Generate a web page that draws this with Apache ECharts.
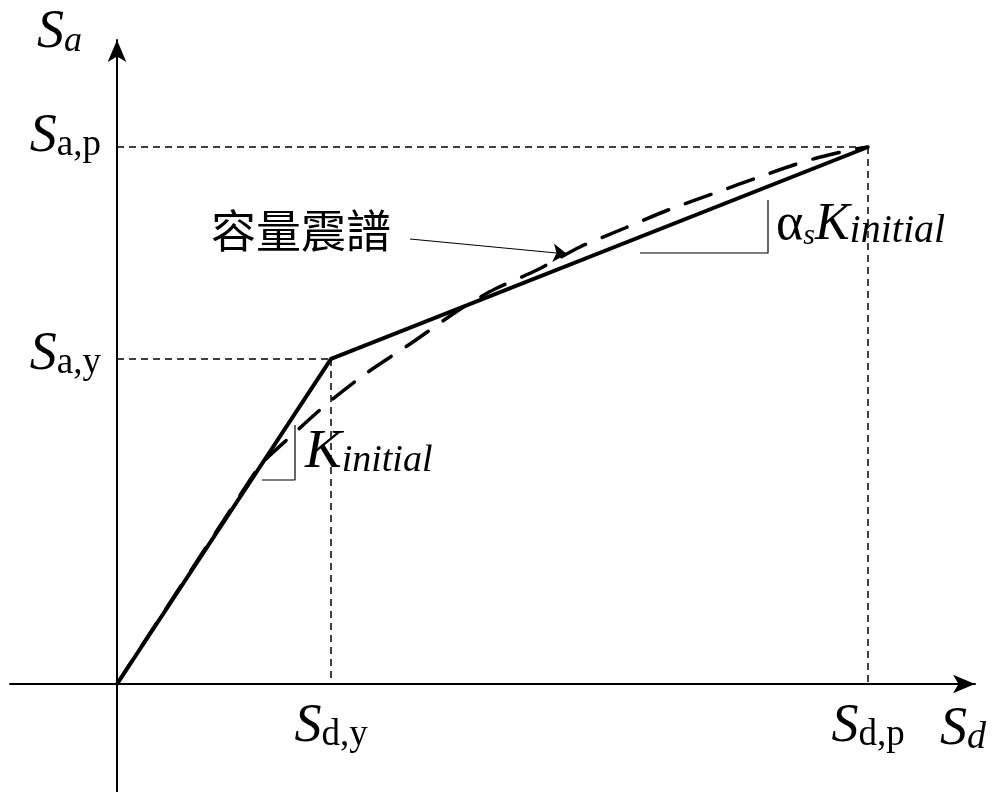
<!DOCTYPE html>
<html>
<head>
<meta charset="utf-8">
<script src="https://cdn.jsdelivr.net/npm/echarts@6/dist/echarts.min.js"></script>
<style>
  html, body { margin: 0; padding: 0; background: #fff; }
  #chart { width: 995px; height: 792px; }
</style>
</head>
<body>
<div id="chart"></div>
<script>
// 双线性容量曲线 (Sd, Sa)
const bilinearSd = [0, 2.14, 7.51];
const bilinearSa = [0, 3.25, 5.37];

// 容量震譜（虚线）
const spectrumSd = [0, 1.33, 1.45, 1.73, 2.11, 2.51, 2.93, 3.33, 3.53, 3.78, 4.20, 4.63, 5.08, 5.51, 5.98, 6.45, 6.89, 7.33, 7.51];
const spectrumSa = [0, 2.04, 2.21, 2.47, 2.81, 3.12, 3.40, 3.68, 3.81, 3.95, 4.14, 4.37, 4.56, 4.74, 4.91, 5.08, 5.23, 5.34, 5.37];

// 刻度与标签（下标部分）
const sdTicks = [2.14, 7.51];
const sdTickSubs = ['d,y', 'd,p'];
const saTicks = [3.25, 5.37];
const saTickSubs = ['a,y', 'a,p'];

const SERIF = 'Liberation Serif';

const pairs = (xs, ys) => xs.map((x, i) => [x, ys[i]]);

const tickRich = {
  S: { fontFamily: SERIF, fontStyle: 'italic', fontSize: 54, lineHeight: 54, color: '#000', opacity: 1, verticalAlign: 'bottom' },
  sub: { fontFamily: SERIF, fontSize: 37, lineHeight: 34, color: '#000', opacity: 1, verticalAlign: 'bottom' }
};

// 参考虚线（屈服点、峰值点）
const guideLines = [];
sdTicks.forEach((sd, i) => {
  const sa = saTicks[i];
  guideLines.push([[0, sa], [sd, sa]]);
  guideLines.push([[sd, sa], [sd, 0]]);
});

const plainAxis = (min, max) => ({
  type: 'value',
  min: min,
  max: max,
  splitLine: { show: false },
  axisTick: { show: false },
  axisLabel: { show: false },
  axisLine: {
    onZero: true,
    symbol: ['none', 'arrow'],
    symbolSize: [14, 22],
    lineStyle: { color: '#000', width: 2 }
  }
});

const chart = echarts.init(document.getElementById('chart'));

const option = {
  animation: false,
  backgroundColor: '#fff',
  grid: { left: 10, right: 20, top: 40, bottom: 0, containLabel: false, outerBoundsMode: 'none' },
  xAxis: plainAxis(-1.07, 8.58),
  yAxis: plainAxis(-1.08, 6.44),
  series: [
    ...guideLines.map((seg) => ({
      type: 'line',
      data: seg,
      symbol: 'none',
      silent: true,
      lineStyle: { color: '#000', width: 1.5, type: [7, 5] }
    })),
    {
      name: '容量震譜',
      type: 'line',
      data: pairs(spectrumSd, spectrumSa),
      smooth: 0.25,
      symbol: 'none',
      lineStyle: { color: '#000', width: 3.5, type: [27, 18], cap: 'round' }
    },
    {
      name: 'bilinear',
      type: 'line',
      data: pairs(bilinearSd, bilinearSa),
      symbol: 'none',
      lineStyle: { color: '#000', width: 4, join: 'miter' }
    },
    // 斜率三角标记
    {
      type: 'line',
      data: [[1.45, 2.04], [1.78, 2.04], [1.78, 2.59]],
      symbol: 'none',
      lineStyle: { color: '#000', width: 1.2 }
    },
    {
      type: 'line',
      data: [[5.23, 4.31], [6.51, 4.31], [6.51, 4.84]],
      symbol: 'none',
      lineStyle: { color: '#000', width: 1.2 }
    },
    // 指向虚线的箭头
    {
      type: 'lines',
      coordinateSystem: 'cartesian2d',
      symbol: ['none', 'arrow'],
      symbolSize: 14,
      lineStyle: { color: '#000', width: 1, opacity: 1 },
      data: [{ coords: [[2.93, 4.45], [4.50, 4.30]] }]
    },
    // 横轴刻度标签
    {
      type: 'scatter',
      symbolSize: 0,
      silent: true,
      itemStyle: { color: '#000', opacity: 1 },
      data: sdTicks.map((v, i) => ({ value: [v, 0], name: sdTickSubs[i] })),
      label: {
        show: true,
        color: '#000',
        opacity: 1,
        position: 'bottom',
        distance: 16,
        formatter: (p) => '{S|S}{sub|' + p.name + '}',
        rich: tickRich
      }
    },
    // 纵轴刻度标签
    {
      type: 'scatter',
      symbolSize: 0,
      silent: true,
      itemStyle: { color: '#000', opacity: 1 },
      data: saTicks.map((v, i) => ({
        value: [0, v],
        name: saTickSubs[i],
        label: { offset: [0, i === 0 ? -4 : -10] }
      })),
      label: {
        show: true,
        color: '#000',
        opacity: 1,
        position: 'left',
        distance: 16,
        formatter: (p) => '{S|S}{sub|' + p.name + '}',
        rich: tickRich
      }
    }
  ],
  graphic: [
    {
      type: 'text', left: 37, top: 6,
      style: {
        text: '{S|S}{sub|a}',
        rich: {
          S: { fontFamily: SERIF, fontStyle: 'italic', fontSize: 54, lineHeight: 54, verticalAlign: 'bottom', fill: '#000' },
          sub: { fontFamily: SERIF, fontStyle: 'italic', fontSize: 36, lineHeight: 22, verticalAlign: 'bottom', fill: '#000' }
        }
      }
    },
    {
      type: 'text', left: 940, top: 703,
      style: {
        text: '{S|S}{sub|d}',
        rich: {
          S: { fontFamily: SERIF, fontStyle: 'italic', fontSize: 54, lineHeight: 54, verticalAlign: 'bottom', fill: '#000' },
          sub: { fontFamily: SERIF, fontStyle: 'italic', fontSize: 38, lineHeight: 24, verticalAlign: 'bottom', fill: '#000' }
        }
      }
    },
    {
      type: 'text', left: 305, top: 425,
      style: {
        text: '{K|K}{sub|initial}',
        rich: {
          K: { fontFamily: SERIF, fontStyle: 'italic', fontSize: 55, lineHeight: 55, verticalAlign: 'bottom', fill: '#000' },
          sub: { fontFamily: SERIF, fontStyle: 'italic', fontSize: 38, lineHeight: 16, verticalAlign: 'bottom', fill: '#000' }
        }
      }
    },
    {
      type: 'text', left: 776, top: 199,
      style: {
        text: '{a|α}{s|s}{K|K}{sub|initial}',
        rich: {
          a: { fontFamily: SERIF, fontSize: 52, lineHeight: 52, verticalAlign: 'bottom', fill: '#000' },
          s: { fontFamily: SERIF, fontStyle: 'italic', fontSize: 30, lineHeight: 42, verticalAlign: 'bottom', fill: '#000' },
          K: { fontFamily: SERIF, fontStyle: 'italic', fontSize: 52, lineHeight: 52, verticalAlign: 'bottom', fill: '#000' },
          sub: { fontFamily: SERIF, fontStyle: 'italic', fontSize: 40, lineHeight: 20, verticalAlign: 'bottom', fill: '#000' }
        }
      }
    },
    {
      type: 'text', left: 211, top: 208,
      style: {
        text: '容量震譜',
        font: '45px "Noto Sans CJK TC"',
        fill: '#000'
      }
    }
  ]
};

chart.setOption(option);
window.addEventListener('resize', () => chart.resize());
</script>
</body>
</html>
